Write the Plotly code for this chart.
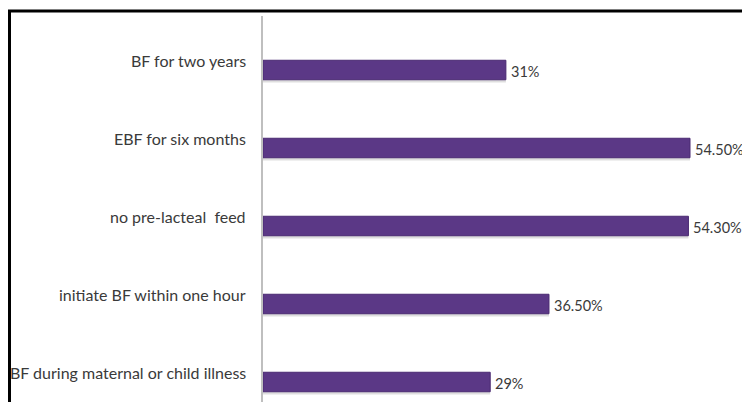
import plotly.graph_objects as go

categories = ["BF for two years", "EBF for six months", "no pre-lacteal  feed",
              "initiate BF within one hour", "BF during maternal or child illness"]
values = [31, 54.5, 54.3, 36.5, 29]
value_labels = ["31%", "54.50%", "54.30%", "36.50%", "29%"]

# page has an 8px body margin: figure sized to fill the rest of the window
OFF = 8
W, H = 750 - OFF, 402 - OFF
L, T = 263 - OFF, 16 - OFF
R_MARGIN = 17
plot_w = W - L - R_MARGIN
plot_h = H - T
spacing = 78.0
units = plot_h / spacing
top_off = (70 - OFF - T) / spacing
yrange = [units - top_off, -top_off]

idx = list(range(len(categories)))
font = "Lato, 'Open Sans', sans-serif"
txt_col = "#3a3a3a"

fig = go.Figure()
# soft shadow
fig.add_trace(go.Bar(
    y=idx, x=values, orientation="h", width=0.27, offset=-0.11,
    marker=dict(color="rgba(0,0,0,0.13)", line=dict(width=0)),
    hoverinfo="skip", showlegend=False))
fig.add_trace(go.Bar(
    y=idx, x=values, orientation="h", width=0.25,
    marker=dict(color="#5b3886", line=dict(color="#4a2a72", width=1)),
    showlegend=False))

anns = []
for i, (c, v, lab) in enumerate(zip(categories, values, value_labels)):
    anns.append(dict(x=0, y=i, xref="x", yref="y", text=c, showarrow=False,
                     xanchor="right", yanchor="middle", xshift=-15, yshift=10,
                     font=dict(family=font, size=16, color=txt_col)))
    anns.append(dict(x=v, y=i, xref="x", yref="y", text=lab, showarrow=False,
                     xanchor="left", yanchor="middle", xshift=3, yshift=-1,
                     font=dict(family=font, size=14.5, color=txt_col)))

def px_x(p):
    return (p - OFF - L) / plot_w
def px_y(p):
    return 1 - (p - OFF - T) / plot_h

shapes = [
    dict(type="line", xref="paper", yref="paper", x0=px_x(8), x1=px_x(752),
         y0=px_y(11), y1=px_y(11), line=dict(color="black", width=3)),
    dict(type="line", xref="paper", yref="paper", x0=px_x(9.5), x1=px_x(9.5),
         y0=px_y(10), y1=px_y(404), line=dict(color="black", width=3)),
]

fig.update_layout(
    width=W, height=H,
    margin=dict(l=L, r=R_MARGIN, t=T, b=0),
    paper_bgcolor="white", plot_bgcolor="white",
    barmode="overlay",
    annotations=anns, shapes=shapes,
    xaxis=dict(range=[0, 54.5 * plot_w / (690 - 263)], showgrid=False, zeroline=False,
               showticklabels=False, showline=False, ticks=""),
    yaxis=dict(range=yrange, showgrid=False, zeroline=False, showticklabels=False,
               showline=True, linecolor="#bfbfbf", linewidth=2, ticks="",
               mirror=False),
)
fig.write_html("out.html")
